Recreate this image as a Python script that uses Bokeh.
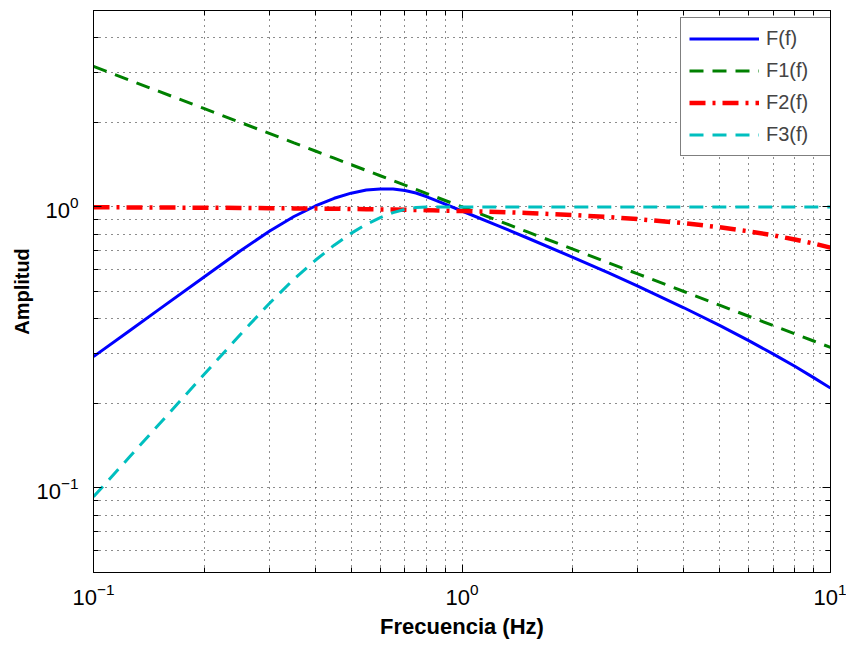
from bokeh.plotting import figure
from bokeh.models import LogAxis, FixedTicker, Legend, LegendItem, CustomJSTickFormatter
from bokeh.embed import file_html
from bokeh.resources import INLINE

# ---- data ----
freq = [0.1, 0.125, 0.15, 0.2, 0.25, 0.3, 0.35, 0.4, 0.45, 0.5, 0.55, 0.6, 0.65,
        0.7, 0.75, 0.8, 0.9, 1.0, 1.25, 1.5, 2, 2.5, 3, 4, 5, 6, 7, 8, 9, 10]
F_total = [0.2932, 0.3620, 0.4301, 0.5642, 0.6964, 0.8193, 0.9244, 1.0076, 1.0733,
           1.1193, 1.1481, 1.1581, 1.1585, 1.1444, 1.1207, 1.0889, 1.0224, 0.9670,
           0.8579, 0.7767, 0.6614, 0.5819, 0.5224, 0.4376, 0.3786, 0.3342, 0.2993,
           0.2709, 0.2469, 0.2266]
F1 = [3.162, 2.828, 2.582, 2.236, 2.0, 1.826, 1.690, 1.581, 1.491, 1.414, 1.348,
      1.291, 1.240, 1.195, 1.155, 1.118, 1.054, 1.0, 0.8944, 0.8165, 0.7071, 0.6325,
      0.5774, 0.5, 0.4472, 0.4082, 0.378, 0.3536, 0.3333, 0.3162]
F2 = [0.997, 0.996, 0.995, 0.993, 0.992, 0.990, 0.988, 0.987, 0.985, 0.983, 0.982,
      0.980, 0.979, 0.977, 0.975, 0.974, 0.970, 0.967, 0.9592, 0.9512, 0.9354, 0.920,
      0.9048, 0.8752, 0.8465, 0.8187, 0.7919, 0.766, 0.7408, 0.7166]
F3 = [0.093, 0.1285, 0.1674, 0.2541, 0.3510, 0.4532, 0.5536, 0.6457, 0.7308, 0.8053,
      0.8673, 0.9154, 0.9543, 0.9802, 0.9952, 1.0, 1.0, 1.0, 1.0, 1.0, 1.0, 1.0, 1.0,
      1.0, 1.0, 1.0, 1.0, 1.0, 1.0, 1.0]

x_major = [0.1, 1, 10]
x_minor = [0.2, 0.3, 0.4, 0.5, 0.6, 0.7, 0.8, 0.9, 2, 3, 4, 5, 6, 7, 8, 9]
y_major = [0.1, 1]
y_minor = [0.06, 0.07, 0.08, 0.09, 0.2, 0.3, 0.4, 0.5, 0.6, 0.7, 0.8, 0.9, 2, 3, 4, 5]

FONT = "Liberation Sans"

p = figure(width=846, height=645, x_axis_type="log", y_axis_type="log",
           x_range=(0.1, 10), y_range=(0.05, 5),
           output_backend="svg", toolbar_location=None,
           min_border_left=93, min_border_right=16, min_border_top=10,
           min_border_bottom=73)
p.background_fill_color = "white"
p.border_fill_color = "white"
p.outline_line_color = "black"
p.outline_line_width = 1

xt = FixedTicker(ticks=x_major, minor_ticks=x_minor)
yt = FixedTicker(ticks=y_major, minor_ticks=y_minor)
p.xaxis.ticker = xt
p.yaxis.ticker = yt
p.xgrid.ticker = xt
p.ygrid.ticker = yt

for g in (p.xgrid, p.ygrid):
    g.grid_line_color = "#1a1a1a"
    g.grid_line_dash = "1 5"
    g.grid_line_alpha = 1.0
    g.minor_grid_line_color = "#1a1a1a"
    g.minor_grid_line_dash = "1 5"
    g.minor_grid_line_alpha = 1.0

for ax in (p.xaxis, p.yaxis):
    ax.major_tick_in = 8
    ax.major_tick_out = 0
    ax.minor_tick_in = 5
    ax.minor_tick_out = 0
    ax.axis_line_color = "black"
    ax.major_tick_line_color = "black"
    ax.minor_tick_line_color = "black"
    ax.major_label_text_font = FONT
    ax.major_label_text_font_size = "22px"
    ax.major_label_text_color = "black"
    ax.axis_label_text_font = FONT
    ax.axis_label_text_font_style = "bold"
    ax.axis_label_text_color = "black"

p.xaxis.axis_label = "Frecuencia (Hz)"
p.xaxis.axis_label_text_font_size = "22px"
p.xaxis.major_label_standoff = 10
p.xaxis.axis_label_standoff = 6
p.yaxis.axis_label = "Amplitud"
p.yaxis.axis_label_text_font_size = "20px"
p.yaxis.major_label_standoff = 15
p.yaxis.axis_label_standoff = 0

blank = CustomJSTickFormatter(code="return ''")
top = LogAxis(ticker=xt, formatter=blank, major_label_text_font_size="0px",
              major_label_standoff=0, major_tick_in=8, major_tick_out=0,
              minor_tick_in=5, minor_tick_out=0, axis_line_color="black")
right = LogAxis(ticker=yt, formatter=blank, major_label_text_font_size="0px",
                major_label_standoff=0, major_tick_in=8, major_tick_out=0,
                minor_tick_in=5, minor_tick_out=0, axis_line_color="black")
p.add_layout(top, "above")
p.add_layout(right, "right")

r0 = p.line(freq, F_total, line_color="#0000FF", line_width=3)
r1 = p.line(freq, F1, line_color="#008000", line_width=3, line_dash="14 9")
r2 = p.line(freq, F2, line_color="#FF0000", line_width=4.5, line_dash="16 7 3 7")
r3 = p.line(freq, F3, line_color="#00BFBF", line_width=3, line_dash="14 9")

legend = Legend(items=[LegendItem(label="F(f)", renderers=[r0]),
                       LegendItem(label="F1(f)", renderers=[r1]),
                       LegendItem(label="F2(f)", renderers=[r2]),
                       LegendItem(label="F3(f)", renderers=[r3])],
                location=(587, 416), margin=0, padding=8, spacing=7,
                glyph_width=70, glyph_height=25, label_height=25, label_width=58,
                label_standoff=7, label_text_font=FONT, label_text_font_size="20px",
                border_line_color="black", border_line_width=1,
                background_fill_color="white", background_fill_alpha=1)
p.add_layout(legend)

open("out.html", "w").write(file_html(p, INLINE))
